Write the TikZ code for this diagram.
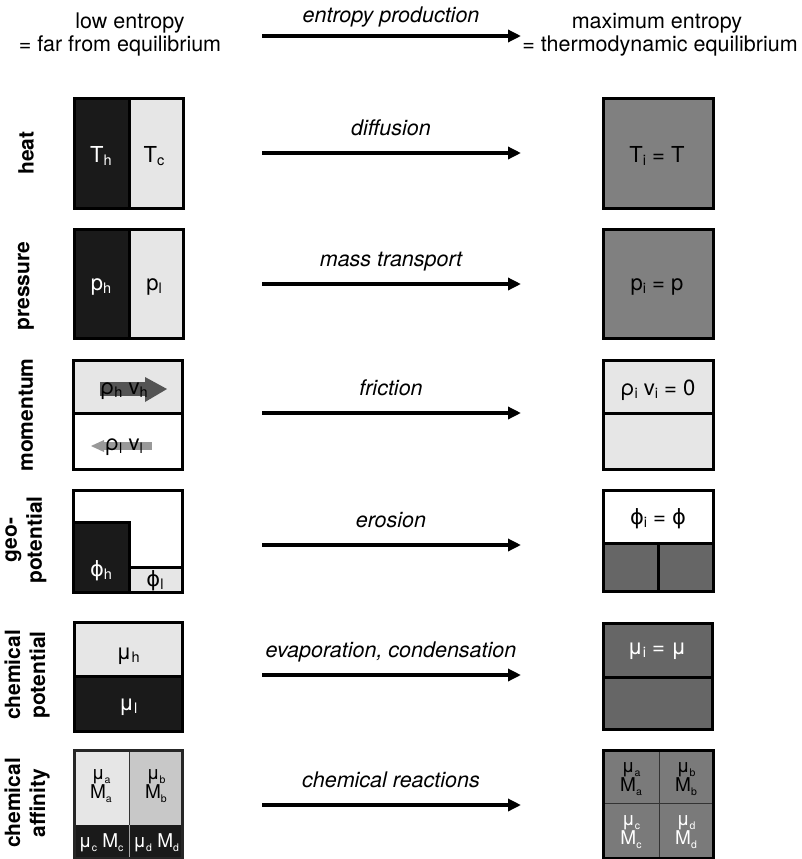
\documentclass[tikz,border=0pt]{standalone}
\usepackage{fontspec}
\setmainfont{TeX Gyre Heros}
\newfontfamily\gkf{DejaVu Sans}
\usetikzlibrary{arrows.meta}
\newcommand\sbs[1]{\raisebox{-3pt}{\fontsize{14.5}{14}\selectfont #1}}
\newcommand\ssb[1]{\raisebox{-4pt}{\fontsize{10.5}{10}\selectfont #1}}
\newcommand\phig{{\gkf\fontsize{21}{22}\selectfont ϕ}}
\definecolor{dk}{HTML}{1A1A1A}
\definecolor{lt}{HTML}{E6E6E6}
\definecolor{md}{HTML}{808080}
\definecolor{dm}{HTML}{666666}
\definecolor{lb}{HTML}{C8C8C8}
\begin{document}
\begin{tikzpicture}[x=1pt,y=-1pt,
  txt/.style={inner sep=0pt,font=\fontsize{21.5}{23}\selectfont},
  itl/.style={txt,font=\fontsize{21.5}{23}\selectfont\itshape,anchor=base},
  side/.style={inner sep=0pt,rotate=90,align=center,font=\fontsize{21}{25}\selectfont\bfseries},
  bt/.style={inner sep=0pt,font=\fontsize{22}{22}\selectfont},
  st/.style={inner sep=0pt,align=center,font=\fontsize{19}{16}\selectfont},
  wt/.style={text=white},
  box/.style={draw=black,line width=3pt},
  div/.style={draw=black,line width=3pt},
  thin/.style={line width=1pt},
  arr/.style={line width=3.5pt,-{Triangle[length=13pt,width=12pt]}}]
\useasboundingbox (0,0) rectangle (801,859);

% header
\node[txt,anchor=base] (h1) at (130,29) {low entropy};
\node[txt,anchor=base] (h2) at (120,52) {= far from equilibrium};
\node[txt,anchor=base] (h3) at (657,29) {maximum entropy};
\node[txt,anchor=base] (h4) at (660,52) {= thermodynamic equilibrium};
\coordinate (a0s) at (262,36); \coordinate (a0e) at (521,36);
\draw[arr] (a0s) -- (a0e);
\node[itl] (l0) at (391,23) {entropy production};

% side labels
\node[side] (s1) at (26,153) {heat};
\node[side] (s2) at (26,286) {pressure};
\node[side] (s3) at (26,415) {momentum};
\node[side] (s4) at (26,540) {geo-\\potential};
\node[side] (s5) at (27,675) {chemical\\potential};
\node[side] (s6) at (27,803) {chemical\\affinity};

% arrows
\foreach \n/\y/\t in {1/153/diffusion,2/284/mass transport,3/413/friction,4/545/erosion,5/675/{evaporation, condensation},6/805/chemical reactions}{
  \coordinate (a\n s) at (262,\y); \coordinate (a\n e) at (521,\y);
  \draw[arr] (a\n s) -- (a\n e);
  \node[itl] (l\n) at (391,\y-18) {\t};
}

% ---------- heat
\fill[dk] (74,98) rectangle (129,208);
\fill[lt] (129,98) rectangle (183,208);
\draw[div] (129,98) -- (129,208);
\draw[box] (74,98) rectangle (183,208);
\node[bt,wt] (th) at (101,156) {T\sbs{h}};
\node[bt] (tc) at (154,156) {T\sbs{c}};
\fill[md] (603,98) rectangle (713,208);
\draw[box] (603,98) rectangle (713,208);
\node[bt] (ti) at (657,156) {T\sbs{i} = T};

% ---------- pressure
\fill[dk] (74,229) rectangle (129,338);
\fill[lt] (129,229) rectangle (183,338);
\draw[div] (129,229) -- (129,338);
\draw[box] (74,229) rectangle (183,338);
\node[bt,wt] (ph) at (101,287) {p\sbs{h}};
\node[bt] (pl) at (154,287) {p\sbs{l}};
\fill[md] (603,229) rectangle (713,338);
\draw[box] (603,229) rectangle (713,338);
\node[bt] (pi) at (657,287) {p\sbs{i} = p};

% ---------- momentum
\fill[lt] (73,360) rectangle (182,413);
\fill[white] (73,413) rectangle (182,469);
\fill[black!67] (100,382) rectangle (146,396);
\fill[black!67] (145,377) -- (167,389) -- (145,402) -- cycle;
\fill[black!40] (103,442) rectangle (152,450);
\fill[black!40] (104,440) -- (91,446) -- (104,452) -- cycle;
\draw[div] (73,413) -- (182,413);
\draw[box] (73,360) rectangle (182,469);
\node[bt] (rh) at (124,391) {ρ\sbs{h} v\sbs{h}};
\node[bt] (rl) at (124,447) {ρ\sbs{l} v\sbs{l}};
\fill[lt] (603,360) rectangle (713,469);
\draw[div] (603,413) -- (713,413);
\draw[box] (603,360) rectangle (713,469);
\node[bt] (ri) at (658,390) {ρ\sbs{i} v\sbs{i} = 0};

% ---------- geo-potential
\fill[white] (73,490) rectangle (182,592);
\fill[dk] (73,522) rectangle (129,592);
\fill[lt] (129,567) rectangle (182,592);
\draw[div] (73,522) -- (129,522) -- (129,592);
\draw[div] (129,567) -- (182,567);
\draw[box] (73,490) rectangle (182,592);
\node[bt,wt] (gh) at (101,571) {\phig\sbs{h}};
\node[bt] (gl) at (155,581) {\phig\sbs{l}};
\fill[white] (603,490) rectangle (713,543);
\fill[dm] (603,543) rectangle (713,591);
\draw[div] (603,543) -- (713,543);
\draw[div] (658,543) -- (658,591);
\draw[box] (603,490) rectangle (713,591);
\node[bt] (gi) at (658,519) {\phig\sbs{i} = \phig};

% ---------- chemical potential
\fill[lt] (74,622) rectangle (182,676);
\fill[dk] (74,676) rectangle (182,731);
\draw[div] (74,676) -- (182,676);
\draw[box] (74,622) rectangle (182,731);
\node[bt] (mh) at (128,656) {μ\sbs{h}};
\node[bt,wt] (ml) at (128,707) {μ\sbs{l}};
\fill[dm] (603,623) rectangle (712,729);
\draw[div] (603,677) -- (712,677);
\draw[box] (603,623) rectangle (712,729);
\node[bt,wt] (mi) at (657,651) {μ\sbs{i} = μ};

% ---------- chemical affinity
\fill[lt] (74,750) rectangle (129,825);
\fill[lb] (129,750) rectangle (182,825);
\fill[dk] (74,825) rectangle (182,858);
\draw[thin,black!80] (129,750) -- (129,825);
\draw[thin,black!35] (129,825) -- (129,858);
\draw[box,draw=black!85] (74,750) rectangle (182,858);
\node[st] (ca) at (101,786) {μ\ssb{a}\\M\ssb{a}};
\node[st] (cb) at (156,786) {μ\ssb{b}\\M\ssb{b}};
\node[st,wt] (cc) at (101,843) {μ\ssb{c} M\ssb{c}};
\node[st,wt] (cd) at (156,843) {μ\ssb{d} M\ssb{d}};
\fill[black!52] (603,750) rectangle (713,858);
\draw[thin,black!80] (659,750) -- (659,858);
\draw[thin,black!80] (603,803) -- (713,803);
\draw[box] (603,750) rectangle (713,858);
\node[st] (ra) at (631,779) {μ\ssb{a}\\M\ssb{a}};
\node[st] (rb) at (686,779) {μ\ssb{b}\\M\ssb{b}};
\node[st,wt] (rc) at (631,832) {μ\ssb{c}\\M\ssb{c}};
\node[st,wt] (rd) at (686,832) {μ\ssb{d}\\M\ssb{d}};
\end{tikzpicture}
\end{document}
